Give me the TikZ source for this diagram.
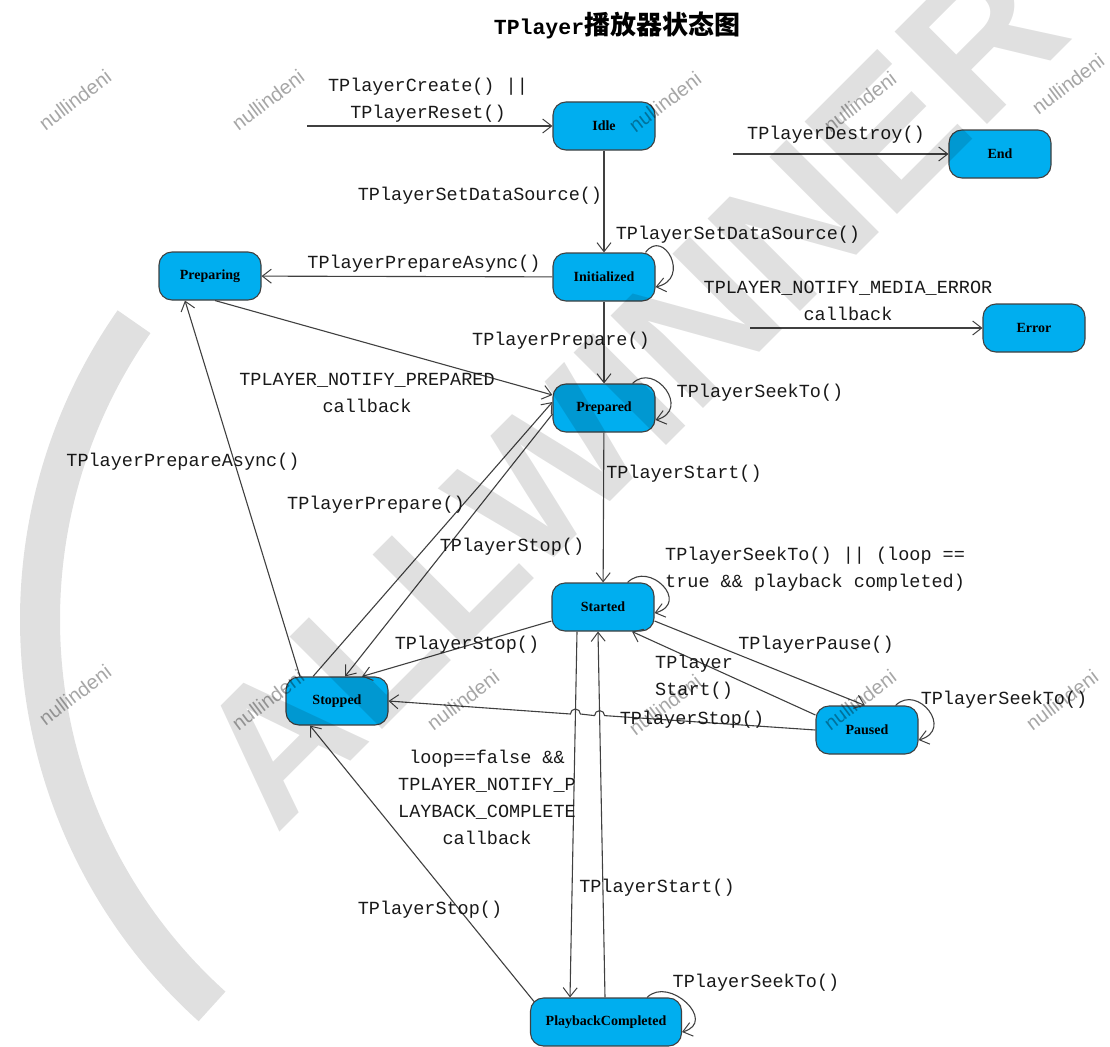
\documentclass[tikz,border=0pt]{standalone}
\usepackage{fontspec}
\setmainfont{Liberation Serif}
\setmonofont{Liberation Mono}
\setsansfont{Liberation Sans}
\newfontfamily\cjkfont{Noto Sans CJK SC}
\usetikzlibrary{arrows.meta,calc}
\definecolor{stateblue}{RGB}{0,174,239}
\begin{document}
\begin{tikzpicture}[x=1pt,y=1pt,
  state/.style={draw=black!75, line width=1.1pt, fill=stateblue, rounded corners=13pt,
    minimum width=102pt, minimum height=48pt, inner sep=0pt,
    font=\fontsize{14}{14}\selectfont\bfseries},
  lbl/.style={font=\ttfamily\fontsize{18.5}{27}\selectfont, align=center, inner sep=0pt, text=black!90},
  arr/.style={draw=black!75, line width=1.1pt, -{Straight Barb[length=9pt,width=14pt,line width=1pt]}},
  wm/.style={text=black, opacity=0.35, font=\sffamily\fontsize{20}{20}\selectfont, rotate=37, inner sep=0pt}
]
\useasboundingbox (0,0) rectangle (1110,-1046);
\clip (0,0) rectangle (1110,-1046);

% title
\node (title) at (617,-25) {\ttfamily\bfseries\fontsize{21.5}{22}\selectfont TPlayer\cjkfont\bfseries\fontsize{26}{26}\selectfont 播放器状态图};

% states
\node[state] (idle) at (604,-126) {Idle};
\node[state] (end) at (1000,-154) {End};
\node[state] (preparing) at (210,-276) {Preparing};
\node[state] (init) at (604,-277) {Initialized};
\node[state] (error) at (1034,-328) {Error};
\node[state] (prepared) at (604,-408) {Prepared};
\node[state] (started) at (603,-607) {Started};
\node[state] (stopped) at (337,-701) {Stopped};
\node[state] (paused) at (867,-730) {Paused};
\node[state, minimum width=151pt] (pc) at (606,-1022) {PlaybackCompleted};

% free starts
\coordinate (s1) at (307,-126);
\coordinate (s2) at (733,-154);
\coordinate (s3) at (750,-328);

\draw[arr] (s1) -- (idle.west);
\draw[arr] (s2) -- (end.west);
\draw[arr] (s3) -- (error.west);

\draw[arr] (idle) -- (init);
\draw[arr] (init) -- (preparing);
\draw[arr] (init) -- (prepared);
\draw[arr] ([xshift=5pt]preparing.south) -- ([yshift=13pt]prepared.west);
\draw[arr] ([xshift=-24pt]stopped.north) -- ([yshift=6pt]prepared.west);
\draw[arr] ([yshift=-6pt]prepared.west) -- ([xshift=8pt]stopped.north);
\draw[arr] (prepared) -- (started);
\draw[arr] ([xshift=-37pt]stopped.north) -- ([xshift=-25pt]preparing.south);
\draw[arr] ([yshift=-14pt]started.west) -- ([xshift=25pt]stopped.north);
\draw[arr] ([yshift=-14pt]started.east) -- ([xshift=-2pt]paused.north);
\draw[arr] ([yshift=15pt]paused.west) -- ([xshift=29pt]started.south);
\draw[arr] ([xshift=-26pt]started.south) -- ([xshift=-36pt]pc.north);
\draw[arr] ([xshift=-1pt]pc.north) -- ([xshift=-5pt]started.south);
\draw[arr] ([xshift=4pt,yshift=-4pt]pc.north west) -- ([xshift=-27pt]stopped.south);

% Paused -> Stopped with line jumps
\coordinate (j1) at (604.6,-715.6);
\coordinate (j2) at (580.4,-714.0);
\draw[arr] (paused.west) -- (j1) arc[start angle=0,end angle=180,radius=5]
  -- (j2) arc[start angle=0,end angle=180,radius=5] -- (stopped.east);

% self loops
\draw[arr] ([xshift=-10pt]init.north east) .. controls +(18,25) and +(36,8) .. ([yshift=-10pt]init.east);
\draw[arr] ([xshift=-23pt]prepared.north east) .. controls +(22,22) and +(36,10) .. ([yshift=-12pt]prepared.east);
\draw[arr] ([xshift=-27pt]started.north east) .. controls +(22,22) and +(36,10) .. ([yshift=-6pt]started.east);
\draw[arr] ([xshift=-23pt]paused.north east) .. controls +(22,22) and +(36,10) .. ([yshift=-10pt]paused.east);
\draw[arr] ([xshift=-35pt]pc.north east) .. controls +(22,22) and +(36,10) .. ([yshift=-10pt]pc.east);

% labels
\node[lbl] (l1) at (428,-100) {TPlayerCreate() ||\\TPlayerReset()};
\node[lbl] (l2) at (836,-135) {TPlayerDestroy()};
\node[lbl] (l3) at (480,-196) {TPlayerSetDataSource()};
\node[lbl] (l4) at (738,-235) {TPlayerSetDataSource()};
\node[lbl] (l5) at (424,-264) {TPlayerPrepareAsync()};
\node[lbl] (l6) at (848,-301) {TPLAYER\_NOTIFY\_MEDIA\_ERROR\\callback};
\node[lbl] (l7) at (561,-341) {TPlayerPrepare()};
\node[lbl] (l8) at (367,-393) {TPLAYER\_NOTIFY\_PREPARED\\callback};
\node[lbl] (l9) at (760,-393) {TPlayerSeekTo()};
\node[lbl] (l10) at (183,-462) {TPlayerPrepareAsync()};
\node[lbl] (l11) at (684,-474) {TPlayerStart()};
\node[lbl] (l12) at (376,-505) {TPlayerPrepare()};
\node[lbl] (l13) at (512,-547) {TPlayerStop()};
\node[lbl, align=left, anchor=west] (l14) at (665,-569) {TPlayerSeekTo() || (loop ==\\true \&\& playback completed)};
\node[lbl] (l15) at (467,-645) {TPlayerStop()};
\node[lbl] (l16) at (816,-645) {TPlayerPause()};
\node[lbl, align=left, anchor=west] (l17) at (655,-677) {TPlayer\\Start()};
\node[lbl] (l18) at (1004,-700) {TPlayerSeekTo()};
\node[lbl] (l19) at (692,-720) {TPlayerStop()};
\node[lbl] (l20) at (487,-797) {loop==false \&\&\\TPLAYER\_NOTIFY\_P\\LAYBACK\_COMPLETE\\callback};
\node[lbl] (l21) at (657,-888) {TPlayerStart()};
\node[lbl] (l22) at (430,-910) {TPlayerStop()};
\node[lbl] (l23) at (756,-983) {TPlayerSeekTo()};

% watermarks
\draw[line width=40pt, draw=black, opacity=0.12] (560,-620) ++(145:520) arc[start angle=145,end angle=228,radius=520];
\node[font=\sffamily\bfseries\fontsize{190}{190}\selectfont, text=black, opacity=0.12, rotate=45] (wmbig) at (630,-390) {ALLWINNER};
\node[wm] (w1) at (75,-100) {nullindeni};
\node[wm] (w2) at (268,-100) {nullindeni};
\node[wm] (w3) at (665,-102) {nullindeni};
\node[wm] (w4) at (860,-102) {nullindeni};
\node[wm] (w5) at (1068,-84) {nullindeni};
\node[wm] (w6) at (75,-695) {nullindeni};
\node[wm] (w7) at (268,-700) {nullindeni};
\node[wm] (w8) at (463,-700) {nullindeni};
\node[wm] (w9) at (665,-705) {nullindeni};
\node[wm] (w10) at (860,-700) {nullindeni};
\node[wm] (w11) at (1062,-700) {nullindeni};
\end{tikzpicture}
\end{document}
